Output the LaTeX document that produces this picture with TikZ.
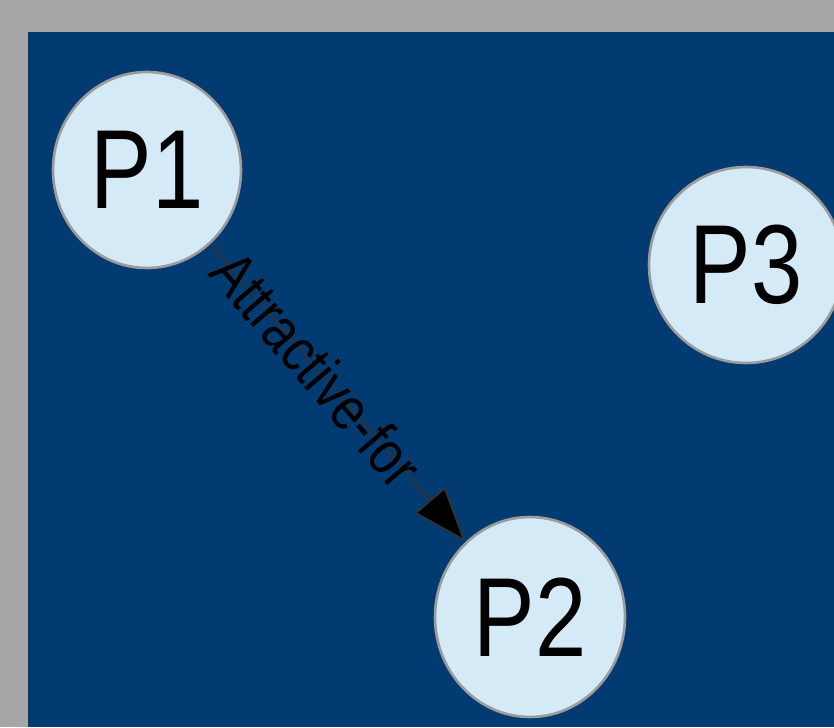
\documentclass[tikz,border=0pt]{standalone}
\usepackage{fontspec}
\setmainfont{Liberation Sans}
\newfontfamily\bubblefont[FakeStretch=0.82]{Liberation Sans}
\usepackage{tikz}
\usepackage{xcolor}
\usetikzlibrary{shapes.geometric,arrows.meta}
\definecolor{framegray}{HTML}{A6A6A6}
\definecolor{slideblue}{HTML}{023B71}
\definecolor{bubblefill}{HTML}{D5EAF7}
\definecolor{bubbleedge}{HTML}{9C9C9C}

\begin{document}
\begin{tikzpicture}[x=0.02cm,y=0.02cm,
    person/.style={ellipse,draw=bubbleedge,line width=1.5pt,fill=bubblefill,
        inner sep=0pt,font=\bubblefont\fontsize{64}{66}\selectfont},
    relation/.style={draw=black!80,line width=1pt,
        -{Triangle[length=1.1cm,width=0.8cm,fill=black]}}]
                \useasboundingbox (0,0) rectangle (834,727);
                \fill[framegray] (0,0) rectangle (834,727);
                \fill[slideblue] (28,0) rectangle (834,695);
                
                \node[person,minimum width=3.76cm,minimum height=3.92cm] (p1) at (147,557) {P1};
                \node[person,minimum width=3.88cm,minimum height=3.92cm] (p3) at (746,462) {P3};
                \node[person,minimum width=3.8cm,minimum height=4cm] (p2) at (530,110) {P2};
                
                \draw[relation] (p1) -- node[pos=0.42,sloped,inner sep=0pt,font=\bubblefont\fontsize{35}{37}\selectfont] {Attractive-for} (p2);
            \end{tikzpicture}
\end{document}
